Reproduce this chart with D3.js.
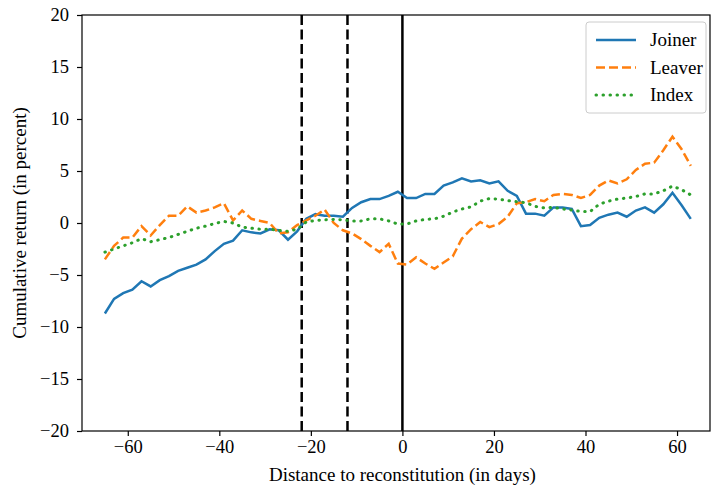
<!DOCTYPE html>
<html>
<head>
<meta charset="utf-8">
<script src="https://cdn.jsdelivr.net/npm/d3@7"></script>
<style>
  html, body { margin: 0; padding: 0; background: #fff; }
  svg { display: block; font-family: "Liberation Serif", "DejaVu Serif", serif; }
</style>
</head>
<body>
<svg id="chart" width="711" height="489"></svg>
<script>
// cumulative returns around reconstitution date, sampled every 2 days
const days = d3.range(-65, 64, 2);

const joiner = [
  -8.7, -7.3, -6.75, -6.4, -5.6, -6.1, -5.5, -5.1, -4.6, -4.3, -4.0, -3.5, -2.7,
  -2.0, -1.7, -0.7, -0.9, -1.0, -0.6, -0.7, -1.6, -0.8, 0.4, 0.85, 0.7, 0.7, 0.6,
  1.45, 2.0, 2.3, 2.3, 2.6, 3.0, 2.4, 2.4, 2.8, 2.8, 3.6, 3.9, 4.3, 4.0, 4.1, 3.8,
  4.0, 3.1, 2.6, 0.9, 0.9, 0.7, 1.5, 1.5, 1.35, -0.3, -0.2, 0.5, 0.8, 1.0, 0.6,
  1.2, 1.5, 1.0, 1.8, 2.9, 1.7, 0.4
];

const leaver = [
  -3.5, -2.2, -1.4, -1.4, -0.3, -1.2, -0.2, 0.7, 0.7, 1.6, 1.0, 1.2, 1.5,
  1.9, 0.25, 1.2, 0.4, 0.2, 0.0, -1.0, -0.9, -0.2, 0.25, 0.7, 1.3, 0.0, -0.7,
  -1.0, -1.55, -2.2, -2.8, -2.0, -3.9, -4.0, -3.3, -3.9, -4.4, -3.8, -3.2, -1.5, -0.6, 0.1, -0.4,
  -0.1, 0.6, 1.9, 2.0, 2.3, 2.1, 2.7, 2.8, 2.7, 2.4, 2.7, 3.6, 4.1, 3.8, 4.2,
  5.1, 5.7, 5.8, 7.0, 8.3, 7.1, 5.5
];

const indexRet = [
  -2.8, -2.5, -2.2, -1.9, -1.5, -1.8, -1.6, -1.4, -1.1, -0.8, -0.5, -0.3, -0.05,
  0.15, 0.0, -0.4, -0.5, -0.6, -0.6, -0.7, -0.8, -0.6, 0.1, 0.25, 0.3, 0.35, 0.3,
  0.2, 0.2, 0.4, 0.4, 0.2, -0.1, -0.1, 0.2, 0.35, 0.4, 0.65, 1.05, 1.35, 1.55, 2.1, 2.35,
  2.3, 2.15, 2.05, 1.95, 1.6, 1.45, 1.5, 1.35, 1.25, 1.1, 1.1, 1.8, 2.1, 2.3, 2.4,
  2.55, 2.8, 2.8, 3.1, 3.55, 3.2, 2.7
];

const seriesNames = ['Joiner', 'Leaver', 'Index'];
const eventDays = [-22, -12];   // dashed markers
const reconDay = 0;             // solid marker
const xTicks = [-60, -40, -20, 0, 20, 40, 60];
const yTicks = [-20, -15, -10, -5, 0, 5, 10, 15, 20];

const styles = [
  { color: '#1f77b4', dash: null, cap: 'butt' },
  { color: '#ff7f0e', dash: '9,4', cap: 'butt' },
  { color: '#2ca02c', dash: '0.5,6.5', cap: 'round' }
];

const svg = d3.select('#chart');
const margin = { top: 15, right: 1, bottom: 58, left: 82 };
const width = 711 - margin.left - margin.right;
const height = 489 - margin.top - margin.bottom;

const x = d3.scaleLinear().domain([-70, 67.2]).range([0, width]);
const y = d3.scaleLinear().domain([-20, 20]).range([height, 0]);

const g = svg.append('g')
  .attr('transform', `translate(${margin.left},${margin.top})`);

// vertical markers
g.selectAll('.event')
  .data(eventDays)
  .enter()
  .append('line')
  .attr('x1', d => x(d)).attr('x2', d => x(d))
  .attr('y1', 0).attr('y2', height)
  .attr('stroke', '#000')
  .attr('stroke-width', 2.5)
  .attr('stroke-dasharray', '10,4.5');

g.append('line')
  .attr('x1', x(reconDay)).attr('x2', x(reconDay))
  .attr('y1', 0).attr('y2', height)
  .attr('stroke', '#000')
  .attr('stroke-width', 2.5);

const allSeries = [joiner, leaver, indexRet];
const line = d3.line()
  .x((d, i) => x(days[i]))
  .y(d => y(d));

allSeries.forEach((vals, k) => {
  g.append('path')
    .datum(vals)
    .attr('fill', 'none')
    .attr('stroke', styles[k].color)
    .attr('stroke-width', k === 2 ? 3 : 2.5)
    .attr('stroke-linecap', styles[k].cap)
    .attr('stroke-dasharray', styles[k].dash)
    .attr('d', line);
});

// axes
const xAxis = g.append('g')
  .attr('transform', `translate(0,${height})`)
  .call(d3.axisBottom(x).tickValues(xTicks).tickSize(5).tickPadding(4).tickFormat(d3.format('d')));

const yAxis = g.append('g')
  .call(d3.axisLeft(y).tickValues(yTicks).tickSize(5).tickPadding(8).tickFormat(d3.format('d')));

[xAxis, yAxis].forEach(ax => {
  ax.select('.domain').remove();
  ax.selectAll('line').attr('stroke', '#000').attr('stroke-width', 1.2);
  ax.selectAll('text')
    .attr('font-family', '"Liberation Serif", serif')
    .attr('font-size', '18.5px')
    .attr('fill', '#000');
});

// frame
g.append('rect')
  .attr('x', 0).attr('y', 0)
  .attr('width', width).attr('height', height)
  .attr('fill', 'none')
  .attr('stroke', '#000')
  .attr('stroke-width', 1.2);

svg.append('text')
  .attr('x', margin.left + x(0))
  .attr('y', 481)
  .attr('text-anchor', 'middle')
  .attr('font-size', '19px')
  .text('Distance to reconstitution (in days)');

svg.append('text')
  .attr('transform', `translate(26,${margin.top + height / 2}) rotate(-90)`)
  .attr('text-anchor', 'middle')
  .attr('font-size', '19px')
  .text('Cumulative return (in percent)');

// legend
const legend = g.append('g')
  .attr('transform', `translate(${width - 124},7)`);

legend.append('rect')
  .attr('width', 120).attr('height', 91)
  .attr('rx', 3)
  .attr('fill', '#fff')
  .attr('fill-opacity', 0.8)
  .attr('stroke', '#ccc');

seriesNames.forEach((name, k) => {
  const ly = 18 + k * 27.5;
  legend.append('line')
    .attr('x1', 10).attr('x2', 50)
    .attr('y1', ly).attr('y2', ly)
    .attr('stroke', styles[k].color)
    .attr('stroke-width', k === 2 ? 3 : 2.5)
    .attr('stroke-linecap', styles[k].cap)
    .attr('stroke-dasharray', styles[k].dash);
  legend.append('text')
    .attr('x', 64)
    .attr('y', ly + 6)
    .attr('font-size', '19px')
    .text(name);
});
</script>
</body>
</html>
